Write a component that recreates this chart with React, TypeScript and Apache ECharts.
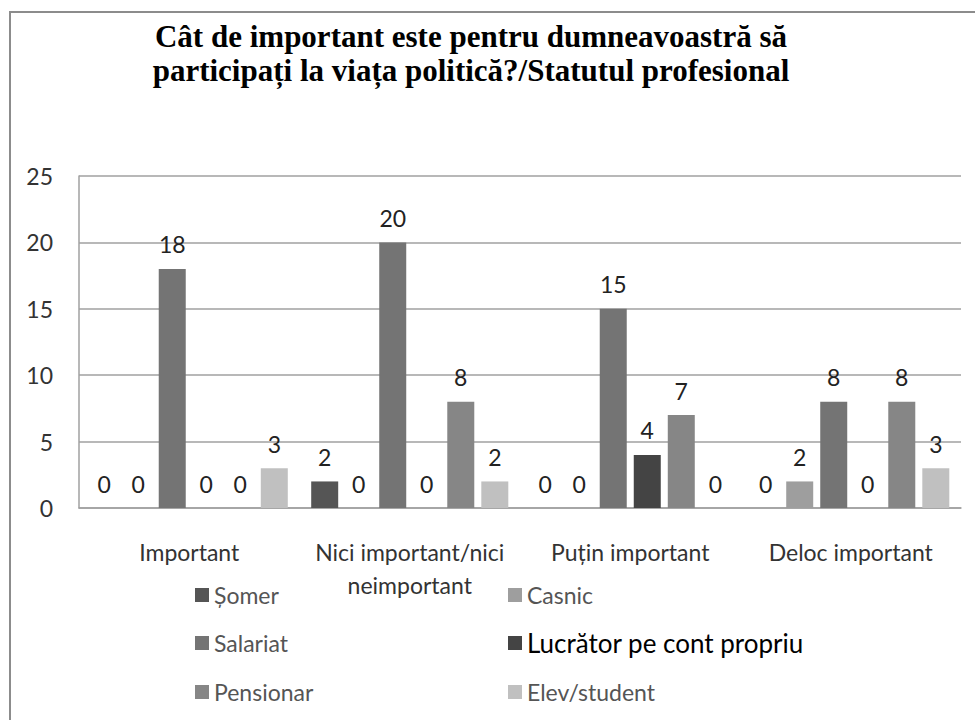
import React, { useEffect, useRef } from "react";
import * as echarts from "echarts";

const categories = ["Important", "Nici important/nici\nneimportant", "Puțin important", "Deloc important"];
const seriesNames = ["Șomer", "Casnic", "Salariat", "Lucrător pe cont propriu", "Pensionar", "Elev/student"];
const somer = [0, 2, 0, 0];
const casnic = [0, 0, 0, 2];
const salariat = [18, 20, 15, 8];
const lucrator = [0, 0, 4, 0];
const pensionar = [0, 8, 7, 8];
const elev = [3, 2, 0, 3];
const seriesValues = [somer, casnic, salariat, lucrator, pensionar, elev];
const seriesColors = ["#555555", "#9e9e9e", "#747474", "#444444", "#868686", "#c0c0c0"];
const yTicks = { min: 0, max: 25, interval: 5 };
const titleText = "Cât de important este pentru dumneavoastră să\nparticipați la viața politică?/Statutul profesional";

const FONT = "Lato";

export default function App() {
  const ref = useRef<HTMLDivElement>(null);
  useEffect(() => {
    if (!ref.current) return;
    const chart = echarts.init(ref.current, undefined, { renderer: "svg" });
    const legendPos = [
      { left: 195, top: 580 },
      { left: 508, top: 580 },
      { left: 195, top: 628 },
      { left: 508, top: 628 },
      { left: 195, top: 677 },
      { left: 508, top: 677 },
    ];
    const legends = seriesNames.map((name, i) => ({
      data: [name],
      left: legendPos[i].left,
      top: legendPos[i].top,
      padding: 0,
      itemWidth: 14,
      itemHeight: 14,
      icon: "rect",
      selectedMode: false,
      textStyle: {
        fontFamily: FONT,
        fontSize: name === "Lucrător pe cont propriu" ? 26 : 23,
        color: name === "Lucrător pe cont propriu" ? "#000000" : "#555555",
        lineHeight: 30,
      },
    }));
    chart.setOption({
      animation: false,
      backgroundColor: "#ffffff",
      title: {
        text: titleText,
        left: 466,
        top: 14,
        textAlign: "center",
        textStyle: {
          fontFamily: "Liberation Serif",
          fontWeight: "bold",
          fontSize: 31,
          lineHeight: 34,
          color: "#000000",
        },
      },
      graphic: [
        {
          type: "rect",
          shape: { x: 10, y: 12, width: 1000, height: 800 },
          style: { fill: "none", stroke: "#8c8c8c", lineWidth: 2 },
          silent: true,
          z: -1,
        },
      ],
      legend: legends,
      grid: { left: 79, right: 14, top: 176, bottom: 212, containLabel: false },
      xAxis: {
        type: "category",
        data: categories,
        axisLine: { show: true, lineStyle: { color: "#a0a0a0", width: 1.5 } },
        axisTick: { show: false },
        axisLabel: {
          interval: 0,
          margin: 27,
          fontFamily: FONT,
          fontSize: 23,
          lineHeight: 33,
          color: "#333333",
        },
      },
      yAxis: {
        type: "value",
        min: yTicks.min,
        max: yTicks.max,
        interval: yTicks.interval,
        axisLine: { show: true, lineStyle: { color: "#a0a0a0", width: 1.5 } },
        axisTick: { show: false },
        splitLine: { show: true, lineStyle: { color: "#a0a0a0", width: 1.5 } },
        axisLabel: {
          margin: 26,
          fontFamily: FONT,
          fontSize: 23,
          color: "#333333",
        },
      },
      series: seriesNames.map((name, i) => ({
        name,
        type: "bar",
        data: seriesValues[i],
        barWidth: 27,
        barGap: "26%",
        itemStyle: { color: seriesColors[i] },
        label: {
          show: true,
          position: "top",
          distance: 13,
          fontFamily: FONT,
          fontSize: 23,
          color: "#222222",
        },
      })),
    });
    return () => chart.dispose();
  }, []);
  return (
    <div
      ref={ref}
      style={{ position: "fixed", left: 0, top: 0, width: 975, height: 720 }}
    />
  );
}
